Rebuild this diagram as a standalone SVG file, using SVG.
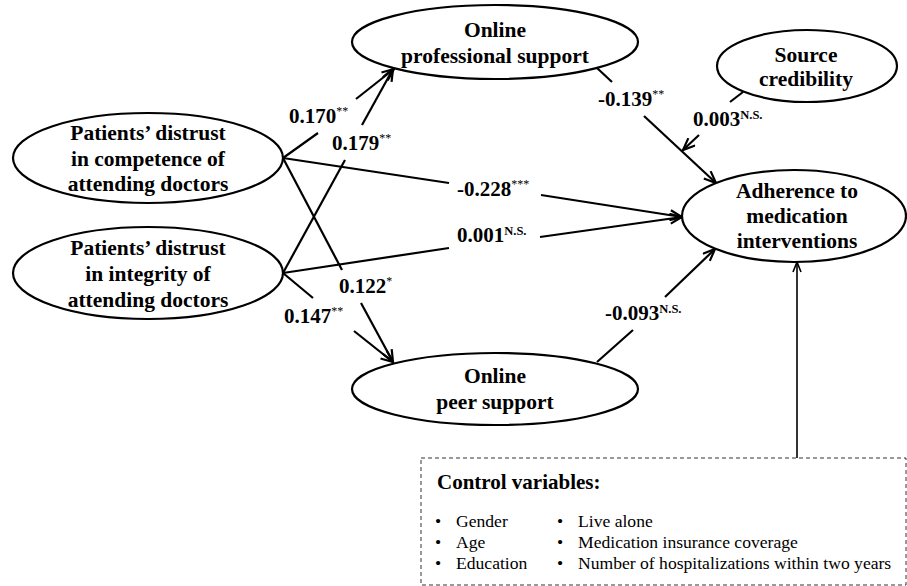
<svg xmlns="http://www.w3.org/2000/svg" width="907" height="586" viewBox="0 0 907 586">
<defs>
<marker id="arr" viewBox="0 0 14 12" refX="13" refY="6" markerWidth="14" markerHeight="12" markerUnits="userSpaceOnUse" orient="auto">
<path d="M1,1 L13,6 L1,11" fill="none" stroke="#000" stroke-width="2.2"/>
</marker>
<marker id="arrs" viewBox="0 0 12 10" refX="11" refY="5" markerWidth="12" markerHeight="10" markerUnits="userSpaceOnUse" orient="auto">
<path d="M1,1 L11,5 L1,9" fill="none" stroke="#000" stroke-width="1.6"/>
</marker>
</defs>
<style>
.node ellipse{fill:#fff;stroke:#000;stroke-width:2.2}
.nt{font-family:"Liberation Serif","Times New Roman",serif;font-weight:bold;font-size:21.5px;text-anchor:middle;fill:#000}
.lb{font-family:"Liberation Serif","Times New Roman",serif;font-weight:bold;font-size:21px;fill:#000}
.sup{font-size:12px;font-weight:normal}
.ns{font-size:12.5px;font-weight:bold}
.ln{stroke:#000;stroke-width:2.2;fill:none}
.ctl{font-family:"Liberation Serif","Times New Roman",serif;font-size:17.6px;fill:#000}
</style>
<rect width="907" height="586" fill="#fff"/>

<g id="connectors">
<line class="ln" x1="283" y1="158" x2="318" y2="133"/>
<line class="ln" x1="356" y1="99" x2="394" y2="69" marker-end="url(#arr)"/>
<line class="ln" x1="283" y1="273" x2="345" y2="160"/>
<line class="ln" x1="362" y1="125" x2="393" y2="69" marker-end="url(#arr)"/>
<line class="ln" x1="283" y1="158" x2="342" y2="270"/>
<line class="ln" x1="361" y1="303" x2="393" y2="362" marker-end="url(#arr)"/>
<line class="ln" x1="283" y1="273" x2="313" y2="298"/>
<line class="ln" x1="354" y1="331" x2="393" y2="362" marker-end="url(#arr)"/>
<line class="ln" x1="283" y1="158" x2="449" y2="183"/>
<line class="ln" x1="541" y1="195" x2="682" y2="217" marker-end="url(#arr)"/>
<line class="ln" x1="283" y1="273" x2="449" y2="248"/>
<line class="ln" x1="540" y1="237" x2="682" y2="217" marker-end="url(#arr)"/>
<line class="ln" x1="597" y1="68" x2="612" y2="82"/>
<line class="ln" x1="644" y1="116" x2="716" y2="183" marker-end="url(#arr)"/>
<line class="ln" x1="743" y1="92" x2="730" y2="102"/>
<line class="ln" x1="699" y1="135" x2="683" y2="150" marker-end="url(#arr)"/>
<line class="ln" x1="597" y1="362" x2="633" y2="330"/>
<line class="ln" x1="665" y1="297" x2="715" y2="249" marker-end="url(#arr)"/>
<line x1="797" y1="458" x2="797" y2="262" stroke="#000" stroke-width="1.6" marker-end="url(#arrs)"/>
</g>

<g id="labels">
<text class="lb" x="289" y="123">0.170<tspan class="sup" dy="-8">**</tspan></text>
<text class="lb" x="332" y="150">0.179<tspan class="sup" dy="-8">**</tspan></text>
<text class="lb" x="339" y="293">0.122<tspan class="sup" dy="-8">*</tspan></text>
<text class="lb" x="284" y="323">0.147<tspan class="sup" dy="-8">**</tspan></text>
<text class="lb" x="598" y="106">-0.139<tspan class="sup" dy="-8">**</tspan></text>
<text class="lb" x="693" y="126">0.003<tspan class="ns" dy="-7">N.S.</tspan></text>
<text class="lb" x="457" y="196">-0.228<tspan class="sup" dy="-8">***</tspan></text>
<text class="lb" x="457" y="242">0.001<tspan class="ns" dy="-7">N.S.</tspan></text>
<text class="lb" x="605" y="320">-0.093<tspan class="ns" dy="-7">N.S.</tspan></text>
</g>

<g id="competence" class="node">
<ellipse cx="148" cy="158" rx="135" ry="45"/>
<text class="nt" x="148" y="140">Patients’ distrust</text>
<text class="nt" x="148" y="166">in competence of</text>
<text class="nt" x="148" y="191">attending doctors</text>
</g>
<g id="integrity" class="node">
<ellipse cx="148" cy="273" rx="135" ry="46"/>
<text class="nt" x="148" y="255">Patients’ distrust</text>
<text class="nt" x="148" y="281">in integrity of</text>
<text class="nt" x="148" y="307">attending doctors</text>
</g>
<g id="professional" class="node">
<ellipse cx="495" cy="42" rx="143" ry="37"/>
<text class="nt" x="495" y="37">Online</text>
<text class="nt" x="495" y="63">professional support</text>
</g>
<g id="peer" class="node">
<ellipse cx="495" cy="389" rx="143" ry="36"/>
<text class="nt" x="495" y="383">Online</text>
<text class="nt" x="495" y="409">peer support</text>
</g>
<g id="source" class="node">
<ellipse cx="807" cy="66" rx="90" ry="36"/>
<text class="nt" x="806" y="62">Source</text>
<text class="nt" x="806" y="86">credibility</text>
</g>
<g id="adherence" class="node">
<ellipse cx="794" cy="216" rx="112" ry="46"/>
<text class="nt" x="797" y="198">Adherence to</text>
<text class="nt" x="797" y="223">medication</text>
<text class="nt" x="797" y="248">interventions</text>
</g>

<g id="controls">
<rect x="421" y="458" width="485" height="127" fill="none" stroke="#333" stroke-width="1" stroke-dasharray="4,3"/>
<text x="437" y="489" font-family="'Liberation Serif','Times New Roman',serif" font-weight="bold" font-size="21" fill="#000">Control variables:</text>
<text class="ctl" x="435" y="527">•</text>
<text class="ctl" x="456" y="527">Gender</text>
<text class="ctl" x="435" y="548">•</text>
<text class="ctl" x="456" y="548">Age</text>
<text class="ctl" x="435" y="569">•</text>
<text class="ctl" x="456" y="569">Education</text>
<text class="ctl" x="557" y="527">•</text>
<text class="ctl" x="578" y="527">Live alone</text>
<text class="ctl" x="557" y="548">•</text>
<text class="ctl" x="578" y="548">Medication insurance coverage</text>
<text class="ctl" x="557" y="569">•</text>
<text class="ctl" x="578" y="569">Number of hospitalizations within two years</text>
</g>
</svg>
